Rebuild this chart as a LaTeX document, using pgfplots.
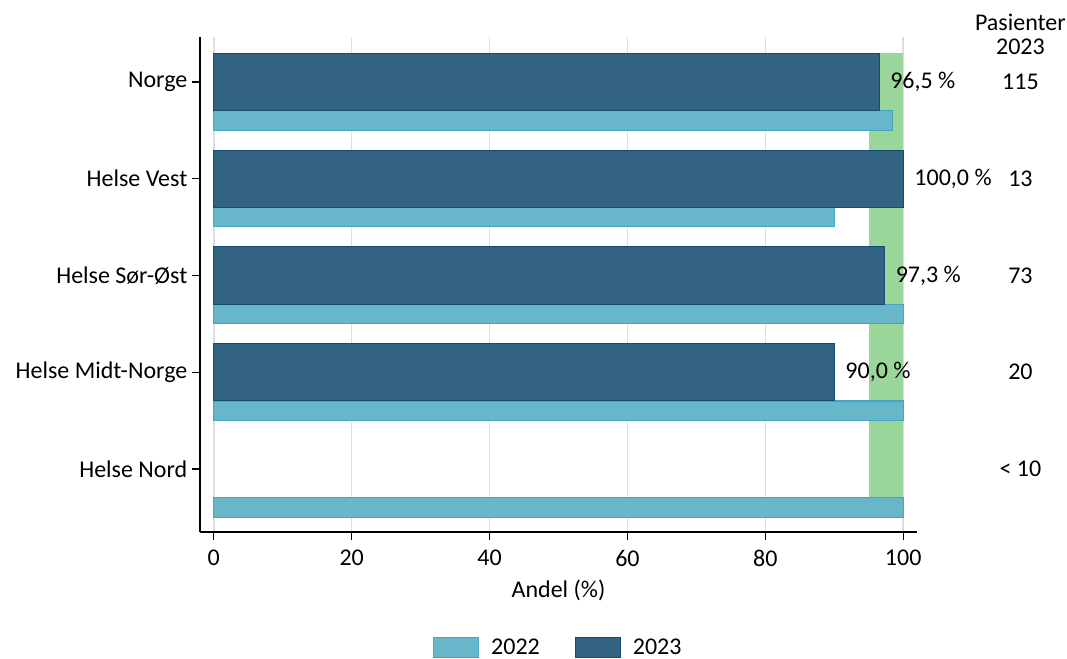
\documentclass[border=0pt]{standalone}
\usepackage{pgfplots}
\pgfplotsset{compat=1.18}
\usepackage{fontspec}
\setmainfont{Carlito}
\definecolor{c22}{HTML}{68B6CA}
\definecolor{c22e}{HTML}{45A6C4}
\definecolor{c23}{HTML}{336382}
\definecolor{c23e}{HTML}{154A72}
\definecolor{band}{HTML}{9AD69A}
\begin{document}
\begin{tikzpicture}[font=\fontsize{18}{21.6}\selectfont]
\begin{axis}[
  at={(0,0)}, anchor=south west,
  scale only axis, width=537.75pt, height=371.25pt,
  xmin=-2, xmax=102, ymin=-0.651, ymax=4.465,
  axis x line*=bottom, axis y line*=left,
  axis line style={-, black, line width=0.8pt},
  xtick={0,20,...,100},
  ytick={0,1,2,3,4},
  yticklabels={Helse Nord, Helse Midt-Norge, Helse Sør-Øst, Helse Vest, Norge},
  tick align=outside, major tick length=6pt,
  tick style={black, line width=0.8pt},
  xticklabel style={yshift=-4pt},
  xmajorgrids, grid style={black!13, line width=1.2pt},
  /pgf/number format/assume math mode=true,
  xlabel={Andel (\%)},
  xlabel style={yshift=-3pt},
  clip=false,
  legend style={at={(0.5,-0.234)}, anchor=center, draw=none, fill=none,
    legend columns=2, /tikz/every even column/.append style={column sep=24pt}},
  legend image code/.code={\draw[#1] (0pt,-7.5pt) rectangle (34pt,7.5pt); \path (41pt,0pt);},
]
\addplot[fill=band, draw=none, forget plot] coordinates {(95,-0.397) (100,-0.397) (100,4.296) (95,4.296)} -- cycle;
\addplot[xbar, bar shift=0pt, bar width=0.2, fill=c22, draw=c22e, line width=0.8pt]
  coordinates {(100,-0.397) (100,0.603) (100,1.603) (90,2.603) (98.4,3.603)};
\addlegendentry{2022}
\addplot[xbar, bar shift=0pt, bar width=0.592, fill=c23, draw=c23e, line width=0.8pt,
  point meta=x, nodes near coords={\pgfmathprintnumber[fixed,fixed zerofill,precision=1,use comma]{\pgfplotspointmeta}\ \%},
  every node near coord/.append style={anchor=west, inner sep=0pt, xshift=8pt, black}]
  coordinates {(90,1) (97.3,2) (100,3) (96.5,4)};
\addlegendentry{2023}
\node at (axis cs:117,4.62) {Pasienter};
\node at (axis cs:117,4.36) {2023};
\node at (axis cs:117,4) {115};
\node at (axis cs:117,3) {13};
\node at (axis cs:117,2) {73};
\node at (axis cs:117,1) {20};
\node at (axis cs:117,0) {< 10};
\end{axis}
\pgfresetboundingbox
\path[use as bounding box] (-150pt,-95.25pt) rectangle (650.25pt,399pt);
\end{tikzpicture}
\end{document}
